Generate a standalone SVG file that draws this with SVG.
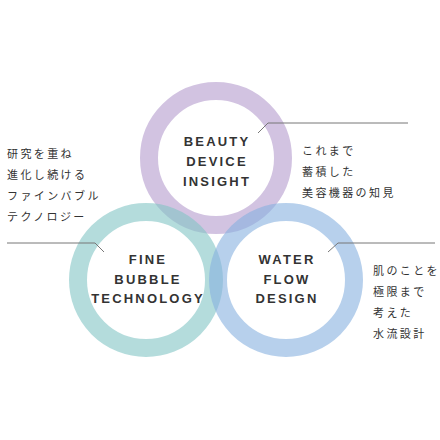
<svg xmlns="http://www.w3.org/2000/svg" width="440" height="440" viewBox="0 0 440 440">
<style>
.ring{fill:none;stroke-width:18;stroke-opacity:0.6}
.en{font-family:"Liberation Sans","DejaVu Sans",sans-serif;font-weight:bold;font-size:13px;letter-spacing:2.2px;fill:#333;text-anchor:middle}
.jp{font-family:"Noto Sans CJK JP","Noto Sans",sans-serif;font-size:11px;letter-spacing:2.4px;fill:#333}
.lead{fill:none;stroke:#777;stroke-width:1}
</style>
<rect width="440" height="440" fill="#fff"/>
<g id="beauty">
<circle class="ring" cx="216" cy="158" r="67" stroke="#b49bcd"/>
<text class="en" x="217" y="146">BEAUTY</text>
<text class="en" x="217" y="166">DEVICE</text>
<text class="en" x="217" y="186">INSIGHT</text>
</g>
<g id="fine">
<circle class="ring" cx="146" cy="280" r="68" stroke="#82c5c5"/>
<text class="en" x="148" y="264">FINE</text>
<text class="en" x="148" y="284">BUBBLE</text>
<text class="en" x="148" y="303">TECHNOLOGY</text>
</g>
<g id="water">
<circle class="ring" cx="286" cy="280" r="68" stroke="#87b1df"/>
<text class="en" x="287" y="264">WATER</text>
<text class="en" x="287" y="284">FLOW</text>
<text class="en" x="287" y="303">DESIGN</text>
</g>
<g id="connectors">
<polyline class="lead" points="258,133 268,123 408,123"/>
<polyline class="lead" points="7,243 95,243 104,252"/>
<polyline class="lead" points="328,252 338,243 435,243"/>
</g>
<g id="note-left">
<text class="jp" x="7" y="158">研究を重ね</text>
<text class="jp" x="7" y="179">進化し続ける</text>
<text class="jp" x="7" y="200">ファインバブル</text>
<text class="jp" x="7" y="221">テクノロジー</text>
</g>
<g id="note-top">
<text class="jp" x="302" y="155">これまで</text>
<text class="jp" x="302" y="176">蓄積した</text>
<text class="jp" x="302" y="197">美容機器の知見</text>
</g>
<g id="note-right">
<text class="jp" x="373" y="275">肌のことを</text>
<text class="jp" x="373" y="296">極限まで</text>
<text class="jp" x="373" y="317">考えた</text>
<text class="jp" x="373" y="338">水流設計</text>
</g>
</svg>
